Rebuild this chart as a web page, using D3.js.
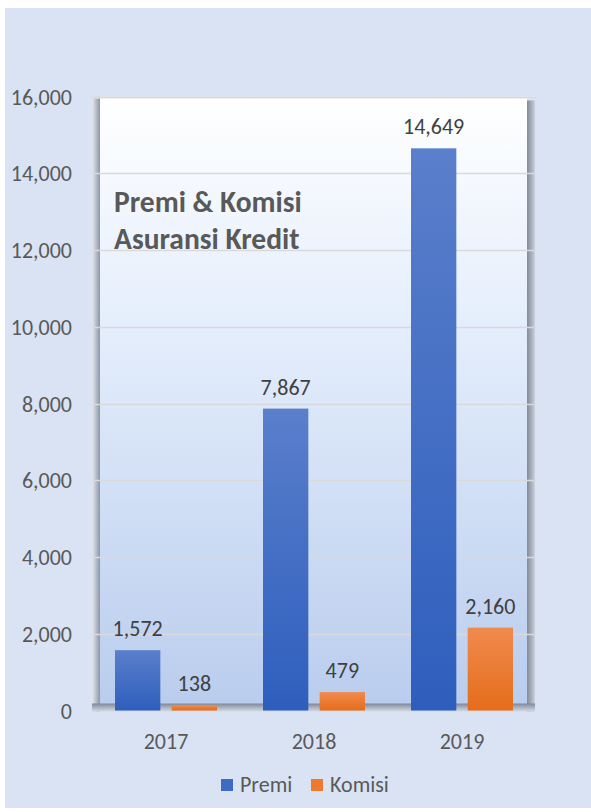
<!DOCTYPE html>
<html>
<head>
<meta charset="utf-8">
<script src="https://cdn.jsdelivr.net/npm/d3@7"></script>
<style>
  html, body { margin: 0; padding: 0; background: #ffffff; }
  svg { display: block; }
  text { font-family: Carlito, Lato, "Open Sans", sans-serif; }
</style>
</head>
<body>
<svg id="chart" width="591" height="812"></svg>
<script>
const categories = ["2017", "2018", "2019"];
const seriesNames = ["Premi", "Komisi"];
const premi = [1572, 7867, 14649];
const komisi = [138, 479, 2160];
const yTicks = [0, 2000, 4000, 6000, 8000, 10000, 12000, 14000, 16000];
const titleLines = ["Premi & Komisi", "Asuransi Kredit"];

const W = 591, H = 812;
const svg = d3.select("#chart");
const defs = svg.append("defs");

// background
svg.append("rect").attr("x", 5).attr("y", 8).attr("width", W - 5).attr("height", H - 12).attr("fill", "#DAE3F3");

const plotL = 92, plotR = 536, y0px = 710.5, yTop = 96.5;
const x0 = d3.scaleBand().domain(categories).range([plotL, plotR]).paddingInner(0).paddingOuter(0);
const x1 = d3.scaleBand().domain(seriesNames).range([23, x0.bandwidth() - 23]).paddingInner(0.2).paddingOuter(0);
const y = d3.scaleLinear().domain([0, 16000]).range([y0px, yTop]);

// gradients
function vgrad(id, stops) {
  const g = defs.append("linearGradient").attr("id", id).attr("x1", 0).attr("y1", 0).attr("x2", 0).attr("y2", 1);
  stops.forEach(s => g.append("stop").attr("offset", s[0]).attr("stop-color", s[1]));
}
function hgrad(id, stops) {
  const g = defs.append("linearGradient").attr("id", id).attr("x1", 0).attr("y1", 0).attr("x2", 1).attr("y2", 0);
  stops.forEach(s => g.append("stop").attr("offset", s[0]).attr("stop-color", s[1]));
}
vgrad("wall", [[0, "#FFFFFF"], [0.35, "#E6EFFC"], [1, "#BACDEE"]]);
hgrad("side", [[0, "#E4E8EF"], [0.5, "#B8C0CC"], [1, "#8C96A4"]]);
vgrad("floor", [[0, "#7E8898"], [0.5, "#A9B3C2"], [1, "#D4DAE3"]]);
hgrad("rside", [[0, "#6E7684"], [0.6, "#9EA6B2"], [1, "#C8CED8"]]);
vgrad("gPremi", [[0, "#5A7FCB"], [1, "#2E5EBD"]]);
vgrad("gKomisi", [[0, "#F08A4E"], [1, "#E56D1A"]]);

// back wall
svg.append("rect").attr("x", 100).attr("y", yTop + 1).attr("width", 427).attr("height", y0px - yTop - 7).attr("fill", "url(#wall)");
// left side wall
svg.append("rect").attr("x", plotL).attr("y", yTop).attr("width", 8).attr("height", y0px - yTop + 1).attr("fill", "url(#side)");
// right side wall shading
svg.append("rect").attr("x", 527).attr("y", yTop + 4).attr("width", 8).attr("height", y0px - yTop - 3).attr("fill", "url(#rside)").attr("opacity", 0.8);
// floor
svg.append("rect").attr("x", plotL).attr("y", y0px - 7).attr("width", plotR - plotL - 1).attr("height", 8).attr("fill", "url(#floor)");
// top edge
svg.append("rect").attr("x", plotL).attr("y", yTop).attr("width", plotR - plotL - 1).attr("height", 2).attr("fill", "#E9ECF1");

// gridlines
svg.append("g").selectAll("line").data(yTicks.slice(1)).join("line")
  .attr("x1", plotL).attr("x2", plotR)
  .attr("y1", d => Math.round(y(d)) + 0.5).attr("y2", d => Math.round(y(d)) + 0.5)
  .attr("stroke", "#D9D9D9").attr("stroke-width", 1.3);

// y axis labels
const yAxis = d3.axisLeft(y).tickValues(yTicks).tickFormat(d3.format(",")).tickSize(0).tickPadding(0);
const ya = svg.append("g").attr("transform", "translate(72,0)").call(yAxis);
ya.select(".domain").remove();
ya.selectAll("text").attr("font-size", 22).attr("fill", "#595959").attr("dy", "0.35em");

// x axis labels
const xAxis = d3.axisBottom(x0).tickSize(0).tickPadding(0);
const xa = svg.append("g").attr("transform", "translate(0,749)").call(xAxis);
xa.select(".domain").remove();
xa.selectAll("text").attr("font-size", 22).attr("fill", "#595959").attr("dy", 0);

// bars
const rows = categories.map((c, i) => ({ cat: c, vals: [ { s: "Premi", v: premi[i] }, { s: "Komisi", v: komisi[i] } ] }));
const grp = svg.append("g").selectAll("g").data(rows).join("g")
  .attr("transform", d => `translate(${x0(d.cat)},0)`);
grp.selectAll("rect").data(d => d.vals).join("rect")
  .attr("x", d => x1(d.s)).attr("width", x1.bandwidth())
  .attr("y", d => y(d.v)).attr("height", d => y0px - y(d.v))
  .attr("fill", d => d.s === "Premi" ? "url(#gPremi)" : "url(#gKomisi)");
grp.selectAll("text").data(d => d.vals).join("text")
  .attr("x", d => x1(d.s) + x1.bandwidth() / 2)
  .attr("y", d => y(d.v) - 14)
  .attr("text-anchor", "middle").attr("font-size", 22).attr("fill", "#404040")
  .text(d => d3.format(",")(d.v));

// title
svg.append("g").selectAll("text").data(titleLines).join("text")
  .attr("x", 114).attr("y", (d, i) => 212 + i * 37)
  .attr("font-size", 29.5).attr("font-weight", "bold").attr("fill", "#595959")
  .text(d => d);

// legend
const leg = [{ s: "Premi", x: 221, fill: "#3F6BC5" }, { s: "Komisi", x: 311, fill: "#EE7A30" }];
const lg = svg.append("g").selectAll("g").data(leg).join("g");
lg.append("rect").attr("x", d => d.x).attr("y", 779).attr("width", 12).attr("height", 12).attr("fill", d => d.fill);
lg.append("text").attr("x", d => d.x + 19).attr("y", 792).attr("font-size", 22).attr("fill", "#595959").text(d => d.s);
</script>
</body>
</html>
